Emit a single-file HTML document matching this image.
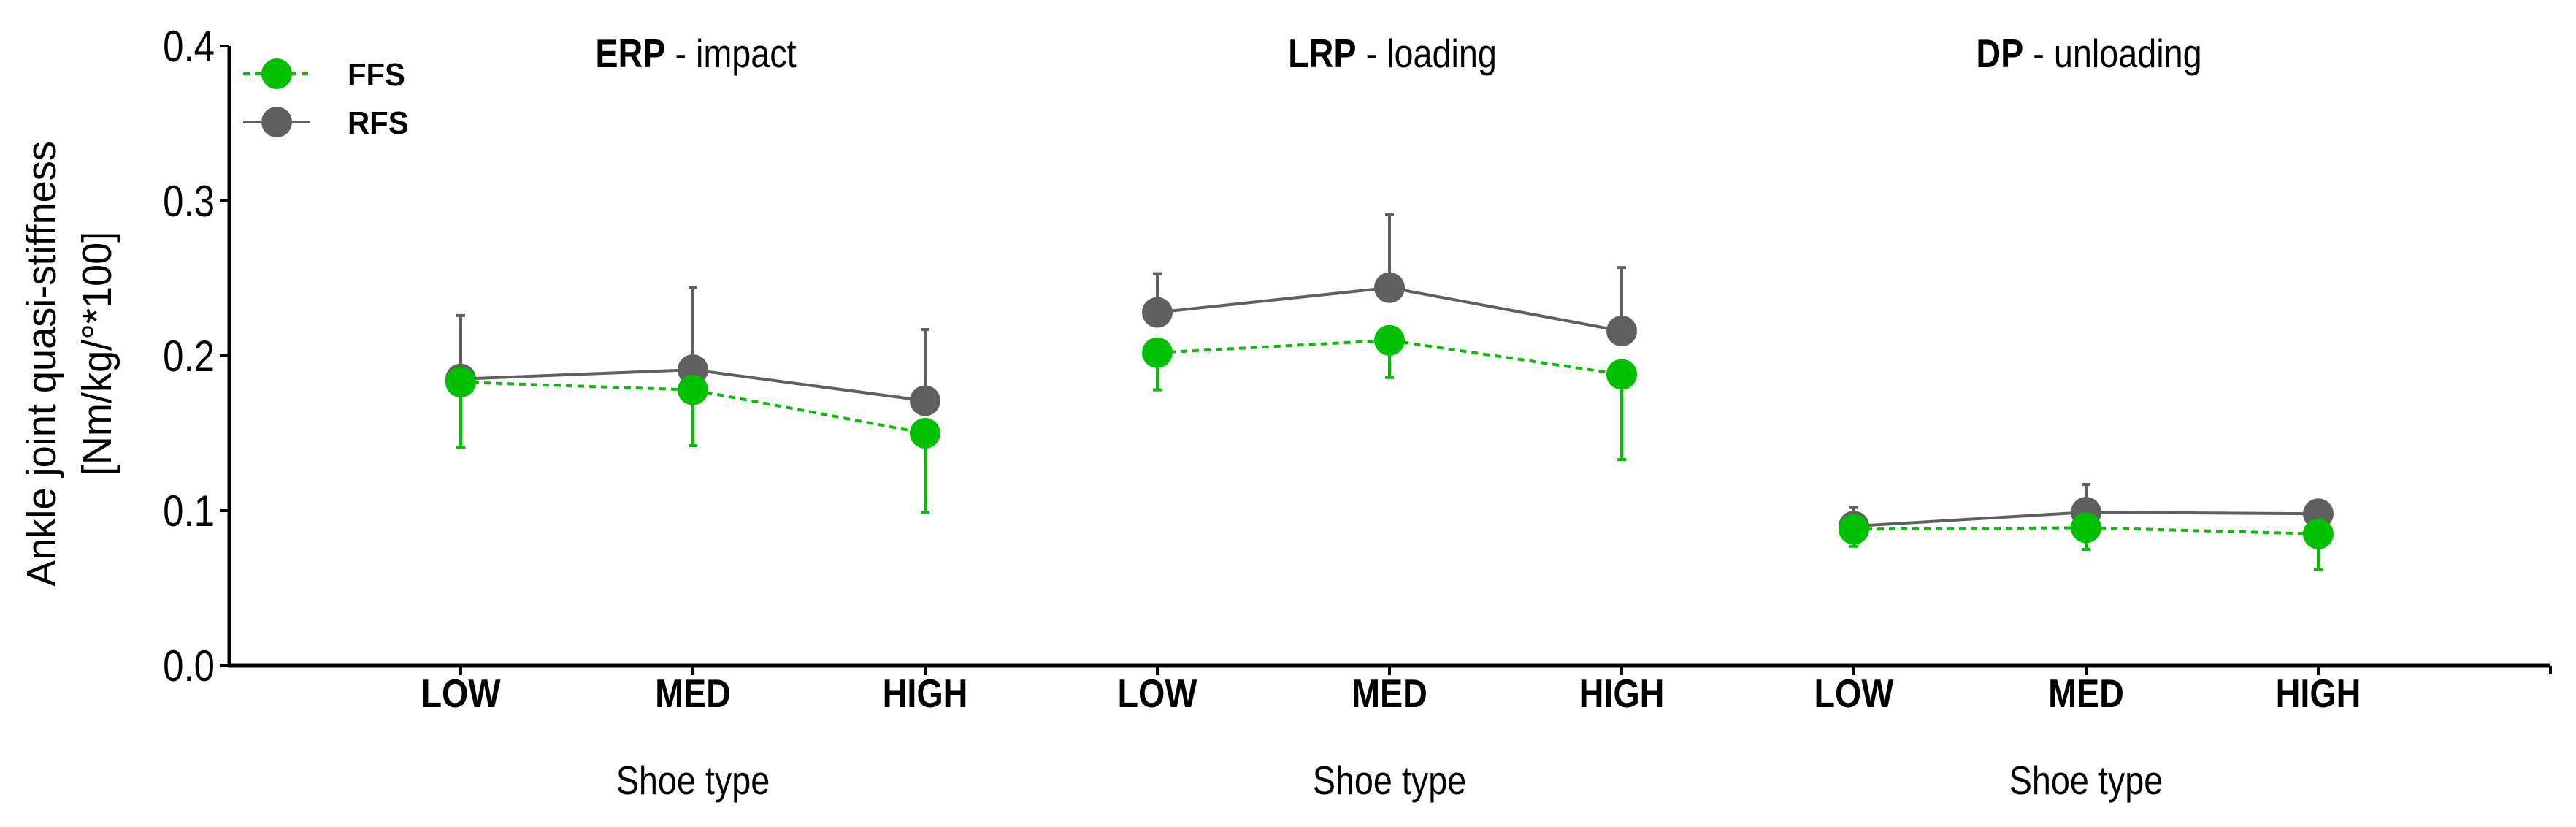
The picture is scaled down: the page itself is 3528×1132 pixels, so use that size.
<!DOCTYPE html>
<html><head><meta charset="utf-8"><style>
html,body{margin:0;padding:0;background:#fff;}
svg{display:block;}
text{font-family:"Liberation Sans",sans-serif;}
</style></head><body>
<svg id="chart" width="3528" height="1132" xmlns="http://www.w3.org/2000/svg"></svg>
<script>
const categories = ["LOW","MED","HIGH","LOW","MED","HIGH","LOW","MED","HIGH"];
const panels = ["ERP","LRP","DP"];
const panelSub = [" - impact"," - loading"," - unloading"];
const rfsMean = [0.185,0.191,0.171, 0.228,0.244,0.216, 0.090,0.099,0.098];
const rfsUpper = [0.226,0.244,0.217, 0.253,0.291,0.257, 0.102,0.117,0.105];
const ffsMean = [0.183,0.178,0.150, 0.202,0.210,0.188, 0.088,0.089,0.085];
const ffsLower = [0.141,0.142,0.099, 0.178,0.186,0.133, 0.077,0.075,0.062];
const yTicks = [0.0,0.1,0.2,0.3,0.4];
const yTickLabels = ["0.0","0.1","0.2","0.3","0.4"];

const NS="http://www.w3.org/2000/svg";
const svg=document.getElementById('chart');
const X0=314, X1=3493, Y0=911, Ytop=63;
const y=v=>Y0-(v/0.4)*(Y0-Ytop);
const x=i=>631+i*318;
const GRAY="#5f5f5f", GREEN="#00c000";
function mk(tag,attrs,parent){const e=document.createElementNS(NS,tag);for(const k in attrs)e.setAttribute(k,attrs[k]);(parent||svg).appendChild(e);return e;}
function txt(s,cx,by,size,weight,anchor,sx){
  const g=mk('g',{transform:`translate(${cx},${by}) scale(${sx||0.85},1)`});
  const t=mk('text',{x:0,y:0,'font-size':size,'font-weight':weight||'normal','text-anchor':anchor||'middle',fill:'#000'},g);
  t.textContent=s;return t;
}
const ya=mk('line',{x1:X0,y1:Ytop,x2:X0,y2:Y0+2,stroke:'#000','stroke-width':5});


const xa=mk('line',{x1:X0-2,y1:Y0,x2:X1,y2:Y0,stroke:'#000','stroke-width':5});


mk('line',{x1:X1,y1:Y0,x2:X1,y2:Y0+12,stroke:'#000','stroke-width':4});
yTicks.forEach((v,i)=>{
  mk('line',{x1:X0-13,y1:y(v),x2:X0,y2:y(v),stroke:'#000','stroke-width':4});
  const t=txt(yTickLabels[i],X0-20,y(v)+21,60,'normal','end',0.85);
  
  
});
categories.forEach((c,i)=>{
  mk('line',{x1:x(i),y1:Y0,x2:x(i),y2:Y0+13,stroke:'#000','stroke-width':4});
  const t=txt(c,x(i),968,55,'bold','middle',0.85);
  
  
});
panels.forEach((p,k)=>{
  const cx=x(k*3+1);
  const g=mk('g',{transform:`translate(${cx+4},92) scale(0.85,1)`});
  
  
  const t=mk('text',{x:0,y:0,'font-size':55,'text-anchor':'middle',fill:'#000'},g);
  const b=mk('tspan',{'font-weight':'bold'},t);b.textContent=p;
  const s=mk('tspan',{},t);s.textContent=panelSub[k];
  const xt=txt('Shoe type',cx,1087,55,'normal','middle',0.85);
  
  
});
const yg=mk('g',{});


[["Ankle joint quasi-stiffness",76,498],["[Nm/kg/°*100]",152,484]].forEach(([s,bx,cy])=>{
  const t=mk('text',{x:0,y:0,'font-size':57,'text-anchor':'middle',fill:'#000',transform:`translate(${bx},${cy}) rotate(-90) scale(0.95,1)`},yg);
  t.textContent=s;
});
for(let k=0;k<3;k++){
  const idx=[k*3,k*3+1,k*3+2];
  idx.forEach(i=>{
    const e1=mk('line',{x1:x(i),y1:y(rfsMean[i]),x2:x(i),y2:y(rfsUpper[i]),stroke:GRAY,'stroke-width':4});
    
    
    mk('line',{x1:x(i)-6,y1:y(rfsUpper[i]),x2:x(i)+6,y2:y(rfsUpper[i]),stroke:GRAY,'stroke-width':4});
    const e2=mk('line',{x1:x(i),y1:y(ffsMean[i]),x2:x(i),y2:y(ffsLower[i]),stroke:GREEN,'stroke-width':4});
    
    
    mk('line',{x1:x(i)-6,y1:y(ffsLower[i]),x2:x(i)+6,y2:y(ffsLower[i]),stroke:GREEN,'stroke-width':4});
  });
  const rl=mk('polyline',{points:idx.map(i=>x(i)+','+y(rfsMean[i])).join(' '),fill:'none',stroke:GRAY,'stroke-width':4});
  
  
  idx.forEach(i=>{
    const c=mk('circle',{cx:x(i),cy:y(rfsMean[i]),r:21,fill:GRAY});
    
    
  });
  const fl=mk('polyline',{points:idx.map(i=>x(i)+','+y(ffsMean[i])).join(' '),fill:'none',stroke:GREEN,'stroke-width':4,'stroke-dasharray':'9,7'});
  
  
  idx.forEach(i=>{
    const c=mk('circle',{cx:x(i),cy:y(ffsMean[i]),r:21,fill:GREEN});
    
    
  });
}
const lg=mk('g',{});


mk('line',{x1:333,y1:101,x2:424,y2:101,stroke:GREEN,'stroke-width':4,'stroke-dasharray':'9,7'},lg);
mk('circle',{cx:379,cy:101,r:21,fill:GREEN},lg);
mk('line',{x1:333,y1:167,x2:424,y2:167,stroke:GRAY,'stroke-width':4},lg);
mk('circle',{cx:379,cy:167,r:21,fill:GRAY},lg);
[["FFS",101],["RFS",167]].forEach(([s,cy])=>{
  const t=mk('text',{x:0,y:0,'font-size':44,'font-weight':'bold',fill:'#000',transform:`translate(476,${cy+16}) scale(0.95,1)`},lg);
  t.textContent=s;
});
</script>
</body></html>
